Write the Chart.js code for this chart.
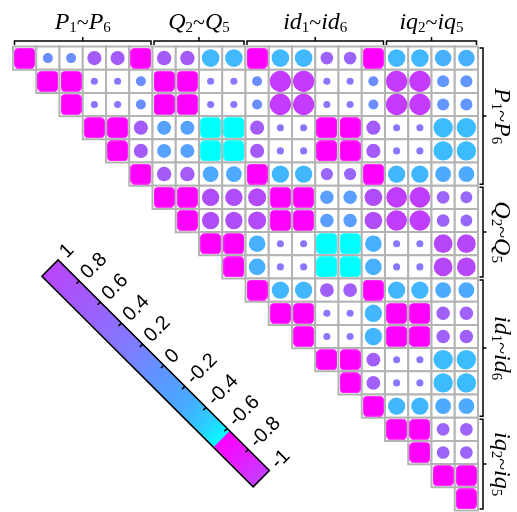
<!DOCTYPE html>
<html>
<head>
<meta charset="utf-8">
<script src="https://cdn.jsdelivr.net/npm/chart.js@4.4.1/dist/chart.umd.min.js"></script>
<style>
  html, body { margin: 0; padding: 0; background: #ffffff; }
  #c { display: block; }
</style>
</head>
<body>
<canvas id="c" width="517" height="512"></canvas>
<script>
// Variables of the correlation matrix (rows / columns, top-left to bottom-right)
const variables = ['P1','P2','P3','P4','P5','P6','Q2','Q3','Q4','Q5',
                   'id1','id2','id3','id4','id5','id6','iq2','iq3','iq4','iq5'];

// Upper triangle of the correlation matrix, each row starting at its diagonal
const rowP1  = [1, -0.2, -0.2, 0.4, 0.4, 1, 0.42, 0.42, -0.62, -0.62, 1, -0.62, -0.62, 0.32, 0.32, 1, -0.62, -0.62, -0.55, -0.55];
const rowP2  = [1, 1, 0.1, 0.1, -0.2, 1, 1, 0.1, 0.1, -0.2, 0.9, 0.9, 0.1, 0.1, -0.2, 0.9, 0.9, -0.29, -0.29];
const rowP3  = [1, 0.1, 0.1, -0.2, 1, 1, 0.1, 0.1, -0.2, 0.9, 0.9, 0.1, 0.1, -0.2, 0.9, 0.9, -0.29, -0.29];
const rowP4  = [1, 1, 0.4, -0.39, -0.39, -1, -1, 0.4, 0.1, 0.1, 1, 1, 0.4, 0.1, 0.1, -0.75, -0.75];
const rowP5  = [1, 0.4, -0.39, -0.39, -1, -1, 0.4, 0.1, 0.1, 1, 1, 0.4, 0.1, 0.1, -0.75, -0.75];
const rowP6  = [1, 0.42, 0.42, -0.5, -0.5, 1, -0.6, -0.6, 0.3, 0.3, 1, -0.6, -0.6, -0.5, -0.5];
const rowQ2  = [1, 1, 0.6, 0.6, 0.65, 1, 1, -0.36, -0.36, 0.62, 0.85, 0.85, 0.32, 0.28];
const rowQ3  = [1, 0.6, 0.6, 0.65, 1, 1, -0.36, -0.36, 0.62, 0.85, 0.85, 0.32, 0.28];
const rowQ4  = [1, 1, -0.55, 0.1, 0.1, -1, -1, -0.55, 0.1, 0.1, 0.7, 0.7];
const rowQ5  = [1, -0.55, 0.1, 0.1, -1, -1, -0.55, 0.1, 0.1, 0.7, 0.7];
const rowId1 = [1, -0.6, -0.6, 0.38, 0.38, 1, -0.6, -0.6, -0.5, -0.5];
const rowId2 = [1, 1, 0.1, 0.1, -0.6, 1, 1, 0.36, 0.36];
const rowId3 = [1, 0.1, 0.1, -0.6, 1, 1, 0.36, 0.36];
const rowId4 = [1, 1, 0.38, 0.1, 0.1, -0.75, -0.75];
const rowId5 = [1, 0.38, 0.1, 0.1, -0.75, -0.75];
const rowId6 = [1, -0.6, -0.6, -0.5, -0.5];
const rowIq2 = [1, 1, 0.32, 0.32];
const rowIq3 = [1, 0.32, 0.32];
const rowIq4 = [1, 1];
const rowIq5 = [1];

// Variable groups shown by the brackets
const groupStart = [0, 6, 10, 16];
const groupEnd   = [5, 9, 15, 19];
const groupName  = ['P', 'Q', 'id', 'iq'];
const groupFirst = ['1', '2', '1', '2'];
const groupLast  = ['6', '5', '6', '5'];

// Colour bar tick values
const barTicks  = [1, 0.8, 0.6, 0.4, 0.2, 0, -0.2, -0.4, -0.6, -0.8, -1];
const barLabels = ['1', '0.8', '0.6', '0.4', '0.2', '0', '-0.2', '-0.4', '-0.6', '-0.8', '-1'];

const rows = [rowP1, rowP2, rowP3, rowP4, rowP5, rowP6, rowQ2, rowQ3, rowQ4, rowQ5,
              rowId1, rowId2, rowId3, rowId4, rowId5, rowId6, rowIq2, rowIq3, rowIq4, rowIq5];

const cells = [];
rows.forEach((row, i) => row.forEach((v, k) => cells.push({ x: i + k, y: i, v })));

// colour helpers
function hex2rgb(h) { const n = parseInt(h.slice(1), 16); return [(n >> 16) & 255, (n >> 8) & 255, n & 255]; }
function mix(a, b, t) {
  const A = hex2rgb(a), B = hex2rgb(b);
  return 'rgb(' + A.map((c, i) => Math.round(c + (B[i] - c) * t)).join(',') + ')';
}
const markStops = [
  [-0.95, '#36c6ff'], [-0.75, '#3cbcff'], [-0.6, '#42b7ff'], [-0.5, '#4eaaff'], [-0.36, '#5a9eff'],
  [-0.2, '#6a8eff'], [0, '#7a82ff'], [0.1, '#8878ff'], [0.3, '#9a66fb'], [0.4, '#a45cf8'],
  [0.65, '#b24af8'], [0.9, '#c43aff']
];
function markColor(v) {
  if (v >= 0.95) return '#ff00ff';
  if (v <= -0.95) return '#00ffff';
  if (v <= markStops[0][0]) return markStops[0][1];
  for (let i = 1; i < markStops.length; i++) {
    if (v <= markStops[i][0]) {
      const [v0, c0] = markStops[i - 1], [v1, c1] = markStops[i];
      return mix(c0, c1, (v - v0) / (v1 - v0));
    }
  }
  return markStops[markStops.length - 1][1];
}

function cellSize(chart) {
  const s = chart.scales.x;
  return Math.abs(s.getPixelForValue(1) - s.getPixelForValue(0));
}

// rounded square glyph used for the strongest correlations
const squareCache = {};
function squareGlyph(color, side) {
  const key = color + '|' + side.toFixed(2);
  if (!squareCache[key]) {
    const n = Math.ceil(side);
    const cv = document.createElement('canvas');
    cv.width = n; cv.height = n;
    const g = cv.getContext('2d');
    const r = side * 0.2;
    const o = (n - side) / 2;
    g.fillStyle = color;
    g.beginPath();
    g.roundRect(o, o, side, side, r);
    g.fill();
    squareCache[key] = cv;
  }
  return squareCache[key];
}

const MAIN_IT = 'italic 24px "Liberation Serif", "Times New Roman", serif';
const MAIN    = '22px "Liberation Serif", "Times New Roman", serif';
const SUB     = '15px "Liberation Serif", "Times New Roman", serif';

function labelParts(g) {
  return [
    { t: groupName[g], font: MAIN_IT, dy: 0 },
    { t: groupFirst[g], font: SUB, dy: 3 },
    { t: '~', font: MAIN, dy: 0 },
    { t: groupName[g], font: MAIN_IT, dy: 0 },
    { t: groupLast[g], font: SUB, dy: 3 }
  ];
}

function drawLabel(ctx, parts, x, y, angle) {
  ctx.save();
  ctx.translate(x, y);
  ctx.rotate(angle);
  ctx.fillStyle = '#000';
  ctx.textBaseline = 'alphabetic';
  ctx.textAlign = 'left';
  const widths = parts.map(p => { ctx.font = p.font; return ctx.measureText(p.t).width; });
  let cx = -widths.reduce((a, b) => a + b, 0) / 2;
  parts.forEach((p, i) => { ctx.font = p.font; ctx.fillText(p.t, cx, p.dy); cx += widths[i]; });
  ctx.restore();
}

const decorations = {
  id: 'decorations',
  afterDraw(chart) {
    const ctx = chart.ctx;
    const xs = chart.scales.x, ys = chart.scales.y;
    const half = cellSize(chart) / 2;

    ctx.save();
    ctx.strokeStyle = '#000';
    ctx.lineWidth = 1.5;
    ctx.lineCap = 'butt';

    // brackets and group labels along the top and the right side
    const bx = xs.right + 5;
    for (let g = 0; g < groupStart.length; g++) {
      const x0 = xs.getPixelForValue(groupStart[g]) - half + 1.5;
      const x1 = xs.getPixelForValue(groupEnd[g]) + half - 1.5;
      const xm = (x0 + x1) / 2;
      const by = ys.top - 5.5;
      ctx.beginPath();
      ctx.moveTo(x0, by + 4); ctx.lineTo(x0, by); ctx.lineTo(x1, by); ctx.lineTo(x1, by + 4);
      ctx.moveTo(xm, by); ctx.lineTo(xm, by - 4);
      ctx.stroke();
      drawLabel(ctx, labelParts(g), xm, ys.top - 17.5, 0);

      const y0 = ys.getPixelForValue(groupStart[g]) - half + 1.5;
      const y1 = ys.getPixelForValue(groupEnd[g]) + half - 1.5;
      const ym = (y0 + y1) / 2;
      ctx.beginPath();
      ctx.moveTo(bx - 3.5, y0); ctx.lineTo(bx, y0); ctx.lineTo(bx, y1); ctx.lineTo(bx - 3.5, y1);
      ctx.moveTo(bx, ym); ctx.lineTo(bx + 3.5, ym);
      ctx.stroke();
      drawLabel(ctx, labelParts(g), bx + 12, ym, Math.PI / 2);
    }

    // diagonal colour bar
    const S = [50, 268], E = [261.3, 478.7];
    const len = Math.hypot(E[0] - S[0], E[1] - S[1]);
    const ang = Math.atan2(E[1] - S[1], E[0] - S[0]);
    const w = 23;
    ctx.translate(S[0], S[1]);
    ctx.rotate(ang);
    const grad = ctx.createLinearGradient(0, 0, len, 0);
    grad.addColorStop(0.00, '#b846f8');
    grad.addColorStop(0.20, '#9c60fb');
    grad.addColorStop(0.40, '#7a80ff');
    grad.addColorStop(0.50, '#6092ff');
    grad.addColorStop(0.65, '#46acff');
    grad.addColorStop(0.75, '#28d2ff');
    grad.addColorStop(0.812, '#00ffff');
    grad.addColorStop(0.813, '#ff00ff');
    grad.addColorStop(1.00, '#c63cff');
    ctx.fillStyle = grad;
    ctx.fillRect(0, -w / 2, len, w);
    ctx.strokeRect(0, -w / 2, len, w);

    ctx.font = '20px "Liberation Sans", Arial, sans-serif';
    ctx.fillStyle = '#000';
    ctx.textAlign = 'left';
    ctx.textBaseline = 'middle';
    barTicks.forEach((v, i) => {
      const t = (1 - v) / 2 * len;
      if (i > 0 && i < barTicks.length - 1) {
        ctx.beginPath();
        ctx.moveTo(t, -w / 2);
        ctx.lineTo(t, -w / 2 + 4);
        ctx.stroke();
      }
      ctx.save();
      ctx.translate(t, -w / 2 - 7);
      ctx.rotate(-Math.PI / 2);
      ctx.fillText(barLabels[i], 0, 0);
      ctx.restore();
    });
    ctx.restore();
  }
};

new Chart(document.getElementById('c'), {
  type: 'scatter',
  data: {
    datasets: [
      {
        label: 'correlation',
        data: cells,
        clip: false,
        pointStyle: c => {
          const v = c.raw.v;
          if (Math.abs(v) >= 0.95) return squareGlyph(markColor(v), cellSize(c.chart) * 0.89);
          return 'circle';
        },
        pointRadius: c => 11.2 * Math.sqrt(Math.abs(c.raw.v)) * cellSize(c.chart) / 23.25,
        pointBackgroundColor: c => markColor(c.raw.v),
        pointBorderWidth: 0,
        pointBorderColor: 'rgba(0,0,0,0)'
      },
      {
        label: 'cells',
        data: cells,
        clip: false,
        pointStyle: 'rect',
        pointRadius: c => cellSize(c.chart) / Math.SQRT2,
        pointBackgroundColor: '#ffffff',
        pointBorderColor: '#b4b4b4',
        pointBorderWidth: 2
      }
    ]
  },
  options: {
    responsive: false,
    animation: false,
    events: [],
    layout: { padding: { left: 13, right: 39, top: 46.5, bottom: 1.5 } },
    scales: {
      x: { type: 'linear', min: -0.5, max: 19.5, display: false },
      y: { type: 'linear', min: -0.5, max: 19.5, reverse: true, display: false }
    },
    plugins: { legend: { display: false }, tooltip: { enabled: false } }
  },
  plugins: [decorations]
});
</script>
</body>
</html>
